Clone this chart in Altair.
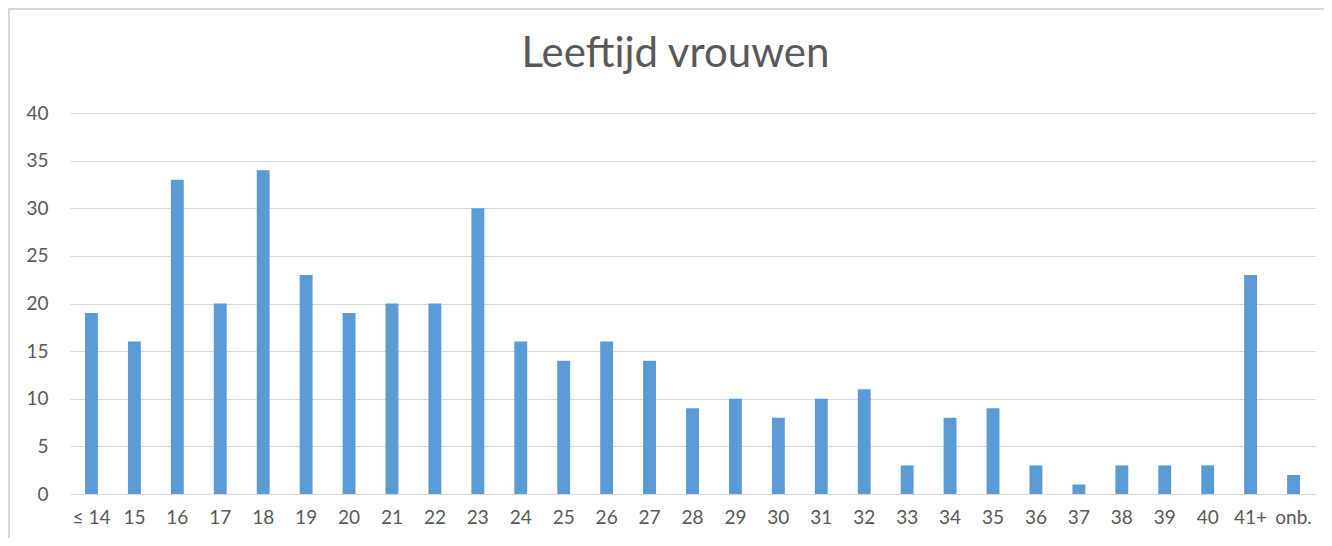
import altair as alt
import pandas as pd

categories = ["≤ 14"] + [str(a) for a in range(15, 41)] + ["41+", "onb."]
values = [19, 16, 33, 20, 34, 23, 19, 20, 20, 30, 16, 14, 16, 14, 9, 10, 8, 10, 11,
          3, 8, 9, 3, 1, 3, 3, 3, 23, 2]
y_ticks = [0, 5, 10, 15, 20, 25, 30, 35, 40]

df = pd.DataFrame({"cat": categories, "val": values})

FONT = "Lato"
GRAY = "#595959"

bars = alt.Chart(df).mark_bar(color="#5B9BD5").encode(
    x=alt.X("cat:N", sort=categories,
            scale=alt.Scale(paddingInner=0.7, paddingOuter=0.35),
            axis=alt.Axis(title=None, labelAngle=0, ticks=False, domain=False,
                          labelFont=FONT, labelFontSize=19, labelColor=GRAY,
                          labelPadding=14, grid=False)),
    y=alt.Y("val:Q", scale=alt.Scale(domain=[0, 40], nice=False),
            axis=alt.Axis(title=None, values=y_ticks, ticks=False, domain=False,
                          labelFont=FONT, labelFontSize=19, labelColor=GRAY,
                          labelPadding=22, gridColor="#D9D9D9", gridWidth=1)),
)

frame = alt.Chart(df).mark_rect(fill=None, stroke="#D9D9D9", strokeWidth=2).encode(
    x=alt.value(-61), y=alt.value(-104), x2=alt.value(1290), y2=alt.value(460)
)

chart = alt.layer(frame, bars).properties(
    width=1245, height=381,
    autosize=alt.AutoSizeParams(type="none"),
    padding={"left": 62, "top": 105, "right": 9, "bottom": 44},
    title=alt.TitleParams("Leeftijd vrouwen", font=FONT, fontSize=42, fontWeight="normal",
                          color=GRAY, baseline="alphabetic", offset=-101, dx=-17),
).configure_view(stroke=None)

chart.save("out.html", embed_options={"renderer": "svg", "actions": False})
